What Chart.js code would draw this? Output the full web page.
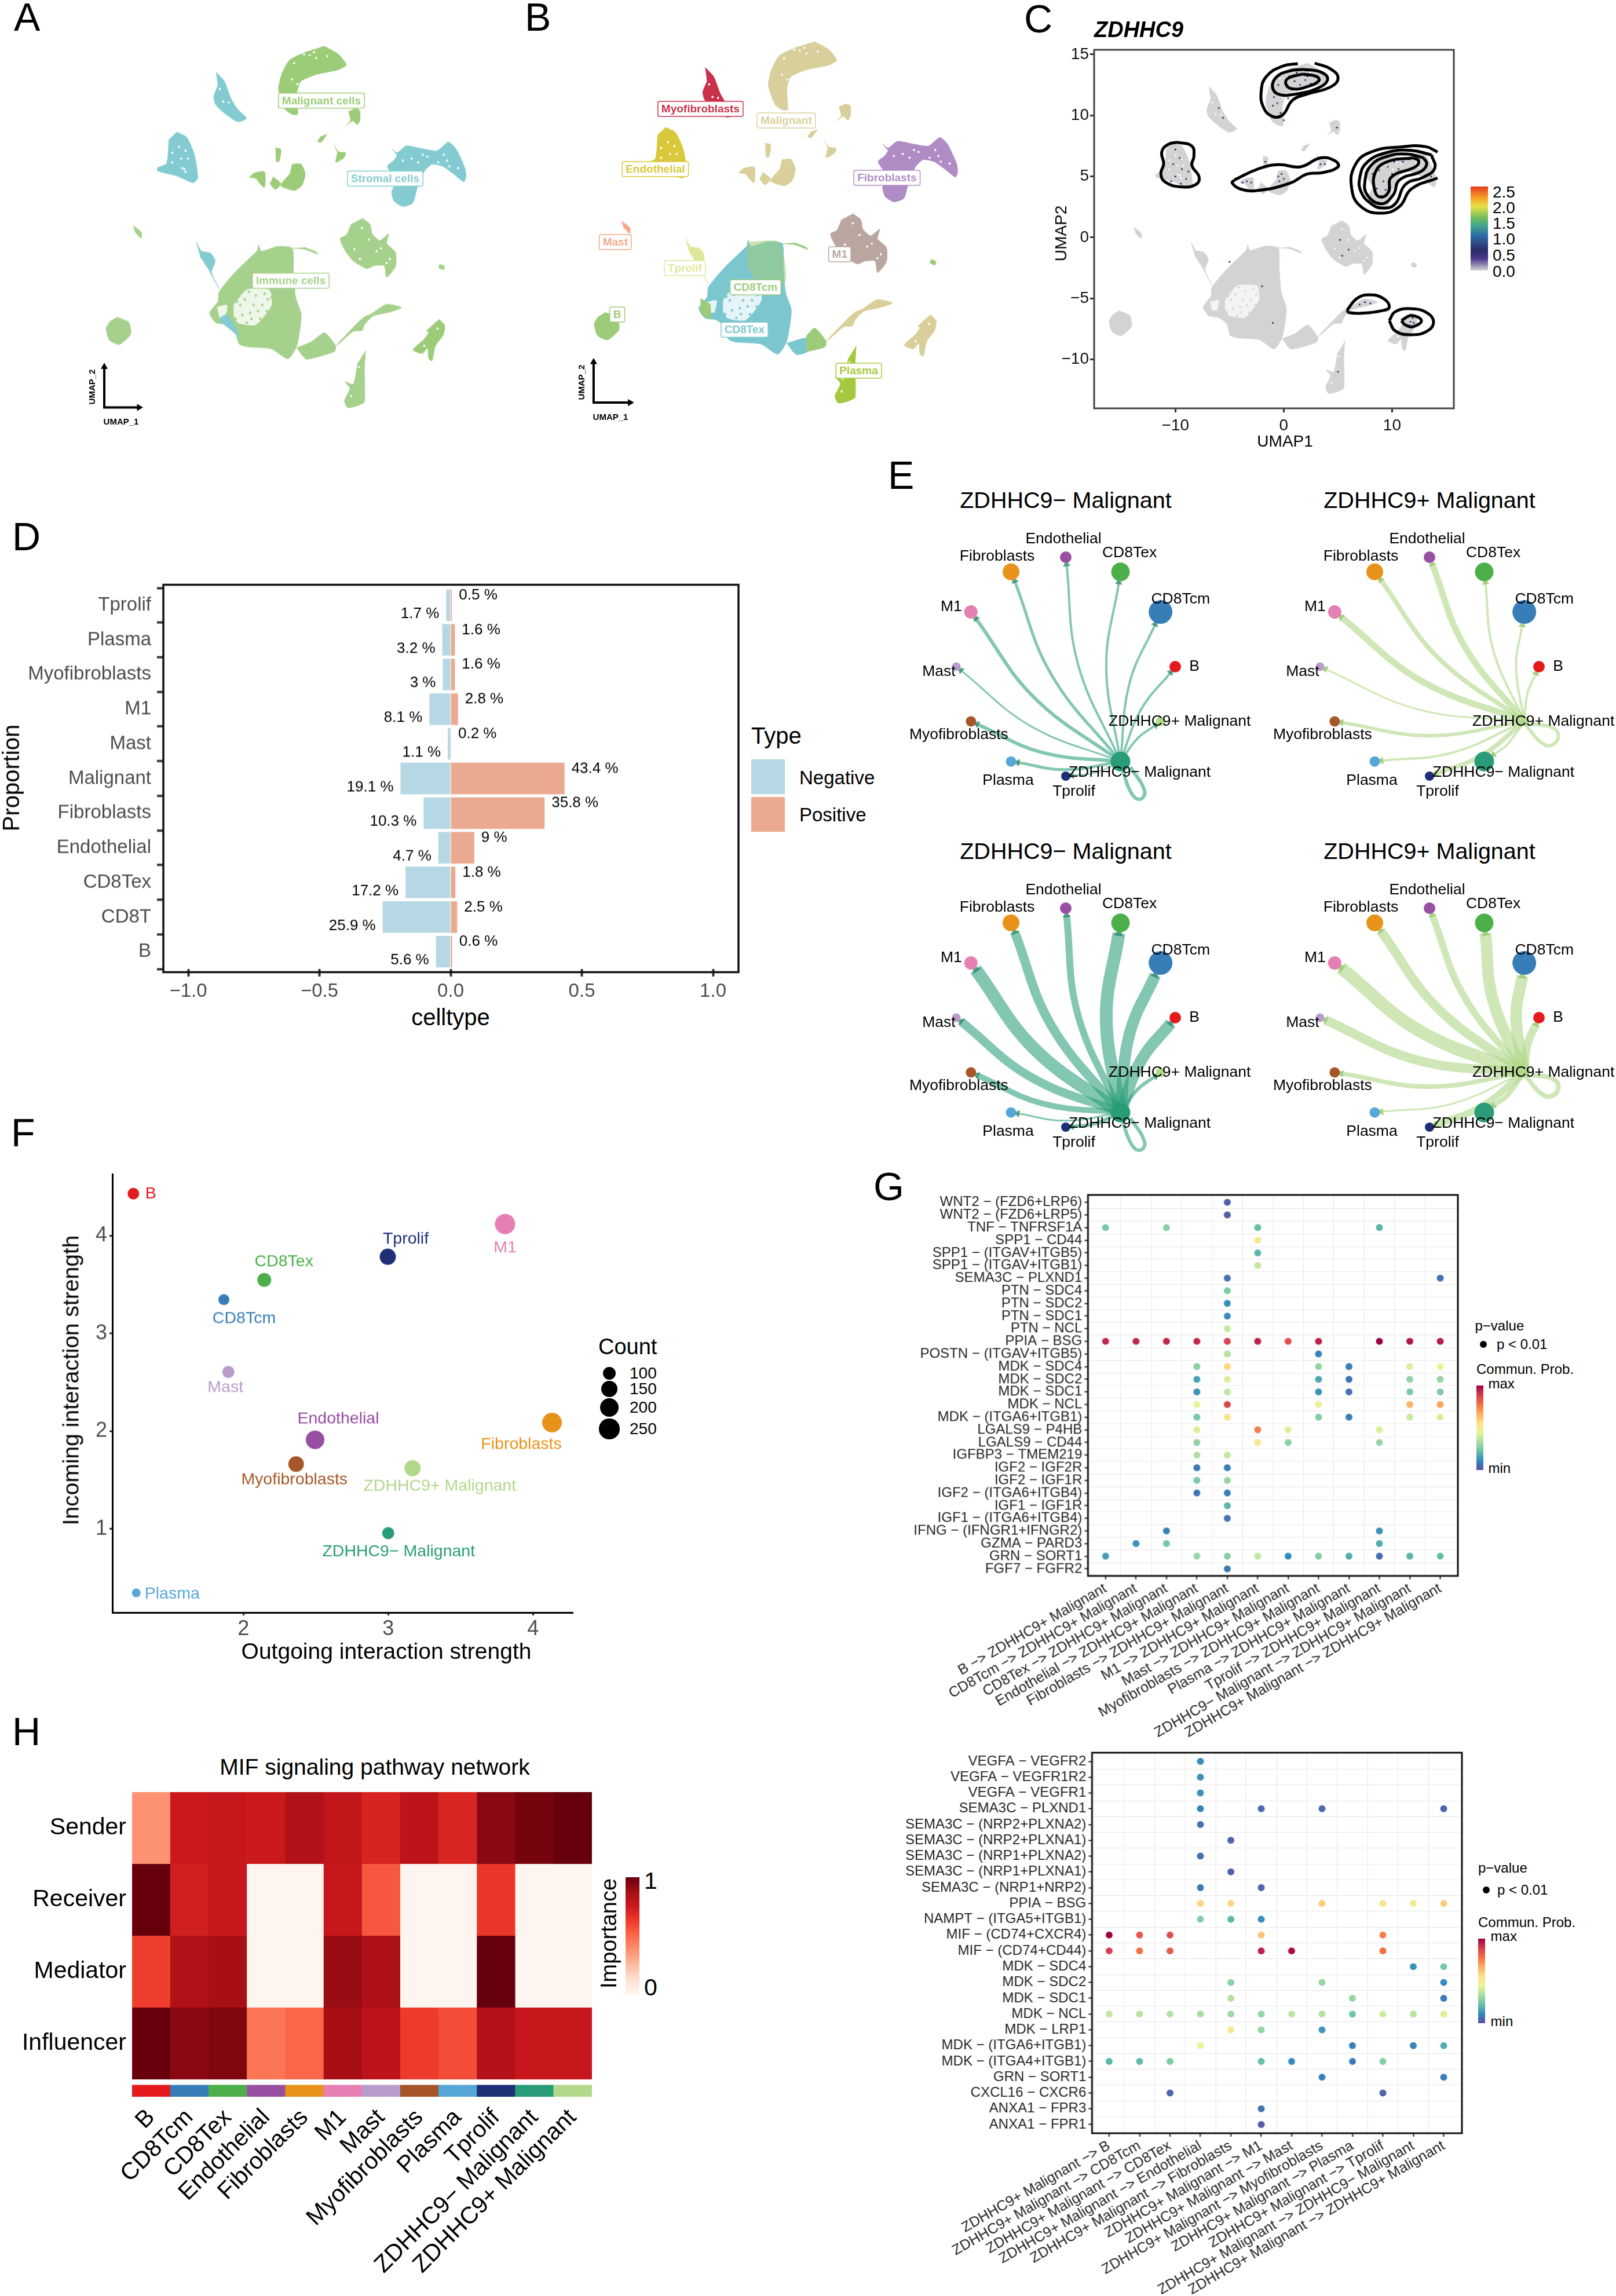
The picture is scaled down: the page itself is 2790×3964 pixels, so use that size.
<!DOCTYPE html>
<html><head><meta charset="utf-8">
<style>html,body{margin:0;padding:0;background:#fff}#page{position:relative;width:2790px;height:3964px;overflow:hidden;background:#fff}
canvas{position:absolute}.t{position:absolute;white-space:nowrap;font-family:"Liberation Sans",Arial,sans-serif;line-height:1}</style>
<script src="https://cdn.jsdelivr.net/npm/chart.js@4/dist/chart.umd.min.js"></script>
</head><body><div id="page"></div>
<script>
// ---------- shared categories and colours ----------
const cellTypes = ['B','CD8Tcm','CD8Tex','Endothelial','Fibroblasts','M1','Mast','Myofibroblasts','Plasma','Tprolif','ZDHHC9− Malignant','ZDHHC9+ Malignant'];
const cellColors = ['#e41a1c','#377eb8','#4daf4a','#984ea3','#e8921a','#e780b2','#b99ccb','#a65628','#56a7d8','#1e2f78','#2a9d78','#b2d88b'];

const umapMalignantTop = [[2.16,14.28],[3.37,13.67],[4.02,12.88],[3.37,12.52],[1.51,12.16],[0.21,11.65],[-0.12,10.78],[-0.07,9.77],[-0.07,9.16],[-0.53,9.19],[-1.09,9.55],[-1.61,10.78],[-1.65,11.22],[-1.37,12.23],[-0.72,13.24],[0.77,13.89]];
const umapMalignantSmall = [[4.76,9.63],[5.13,9.48],[5.17,8.76],[4.95,8.4],[4.58,8.69],[4.02,8.35],[4.39,8.73],[4.21,9.41]];
const umapMalignantSlimA = [[2.44,7.72],[1.92,7.1],[1.62,7.14],[1.89,7.53]];
const umapMalignantSlimB = [[3,6.88],[3.37,6.37],[3.96,6.3],[3.83,5.94],[3.15,5.58],[3.28,6.3]];
const umapMidStem = [[-1.92,6.66],[-1.46,6.56],[-1.61,5.65],[-1.87,5.65]];
const umapMidLeft = [[-4.12,4.45],[-3.69,4.78],[-2.85,4.89],[-2.76,4.28],[-2.85,3.7],[-3.22,3.99],[-3.5,4.35]];
const umapMidCentre = [[-2.11,4.5],[-1.46,3.99],[-1.92,3.56],[-2.39,3.99]];
const umapMidRight = [[-0.53,5.44],[0.21,5.46],[0.58,4.71],[0.3,3.85],[-0.35,3.48],[-1.46,3.85],[-0.72,4.71]];
const umapMyofibro = [[-6.9,12.34],[-6.2,11.65],[-5.64,10.35],[-5.08,9.55],[-4.34,8.88],[-5.08,8.62],[-6.2,9.27],[-6.94,9.92],[-7.09,10.5],[-6.75,11.29]];
const umapEndo = [[-10.19,7.86],[-9.36,7.46],[-8.71,6.16],[-8.43,4.42],[-8.8,4.06],[-10.19,4.57],[-11.77,4.93],[-11.83,5.15],[-11.03,5.51],[-10.84,7.31]];
const umapFibro = [[7.83,6.59],[8.29,6.3],[9.04,6.81],[10.43,6.59],[11.64,6.45],[12.57,7.1],[13.22,6.59],[13.96,5.15],[14.05,4.5],[13.87,4.13],[13.03,4.71],[12.1,5.29],[11.17,5.43],[10.52,4.86],[9.97,3.7],[9.59,2.54],[8.76,2.28],[8.02,2.69],[7.83,3.41],[8.2,4.13],[7.46,5.29],[8.01,5.72],[8.29,6.09]];
const umapM1 = [[5.35,1.39],[6,0.96],[6.19,0.23],[6.84,-0.27],[7.58,0.23],[7.4,-0.49],[8.14,-1.14],[8.14,-2.22],[7.4,-3.02],[7.21,-2.15],[6.38,-2.15],[5.73,-2.37],[4.61,-1.79],[3.96,-1.07],[3.5,-0.13],[4.05,0.16],[4.43,0.96]];
const umapImmune = [[-3.34,-0.56],[-3.1,-1.07],[-1.7,-0.71],[-0.5,-0.85],[-0.41,-2.66],[-0.22,-4.54],[0.25,-5.84],[-0.13,-8.15],[-0.87,-9.13],[-2.26,-8.37],[-4.31,-8.22],[-4.96,-8.01],[-5.2,-7.14],[-5.98,-6.56],[-6.91,-6.42],[-7.43,-5.69],[-6.72,-4.83],[-6.63,-4.1],[-5.24,-2.59],[-3.47,-1.07]];
const umapWhisker = [[-0.5,-0.85],[0.52,-0.92],[1.64,-1.29],[1.45,-1.1],[0.52,-0.78]];
const umapImmuneHollow = [[-5.42,-5.12],[-4.31,-3.96],[-2.45,-3.96],[-2.26,-5.12],[-3.56,-6.56],[-5.05,-6.42],[-5.42,-5.84]];
const umapImmuneHollowLeft = [[-6.81,-5.26],[-5.98,-5.12],[-6.16,-5.98],[-6.63,-5.98]];
const umapImmuneGreenA = [[-3.39,-0.75],[-0.78,-0.75],[-0.26,-3.63],[-2.08,-4.29],[-3.39,-2.52]];
const umapImmuneGreenB = [[-7.29,-4.96],[-6.51,-5.4],[-6.51,-6.5],[-7.29,-6.06]];
const umapTealStreak = [[-6.44,-5.98],[-5.98,-5.84],[-5.14,-6.99],[-5.05,-7.79],[-5.24,-7.28],[-6.63,-6.27]];
const umapTailHump = [[-0.13,-8.3],[1.08,-7.86],[2.2,-7.17],[3.13,-8.15],[3.03,-8.58],[0.71,-9.16],[0.25,-8.8]];
const umapTailThin = [[3.13,-8.15],[4.98,-6.42],[5.54,-5.98],[6.1,-5.77],[7.4,-5.04],[8.66,-5.29],[7.68,-5.62],[6.28,-5.91],[5.54,-6.56],[5.35,-7],[4.61,-7.07],[3.4,-8]];
const umapTailTeal = [[-0.13,-8.3],[1.7,-7.9],[1.56,-8.94],[0.71,-9.16],[0.25,-8.8]];
const umapTailGreen = [[1.5,-7.76],[2.2,-7.17],[3.13,-8.15],[3.03,-8.58],[1.5,-8.95]];
const umapRight = [[11.8,-6.16],[12.27,-6.63],[12.14,-7.36],[11.49,-8.15],[11.2,-9.28],[10.93,-9.09],[10.84,-8.3],[10.37,-8.73],[9.63,-8.44],[10.56,-7.65],[10.93,-7.14],[10.74,-7]];
const umapPlasma = [[5.63,-8.51],[5.54,-9.89],[5.54,-12.34],[4.98,-12.63],[4.15,-12.78],[3.87,-12.27],[4.33,-11.33],[3.9,-10.83],[4.61,-11.04],[4.98,-9.45]];
const umapB = [[-15.2,-6],[-14.2,-6.4],[-14.05,-7.28],[-15,-8.05],[-15.84,-7.72],[-16.1,-6.84],[-15.74,-6.28]];
const umapMast = [[-13.84,0.84],[-13.16,0.35],[-13.16,-0.09],[-13.68,0.35]];
const umapTprolif = [[-8.58,-0.35],[-8.12,-1.07],[-7.37,-1.21],[-6.96,-1.79],[-7.28,-2.66],[-6.63,-3.89],[-7,-3.31],[-7.56,-2.37],[-8.21,-1.5]];
const umapDot = [[11.84,-2.04],[12.26,-2.19],[12.16,-2.46],[11.74,-2.3]];
const umapGapCells = [[1.33,13.82],[0.96,13.6],[1.51,13.39],[2.44,13.53],[-0.35,13.02],[-0.53,11.8],[-0.07,11.43],[0.49,13.67],[-10,6.74],[-9.45,6.45],[-10.56,6.3],[-9.82,5.87],[-9.54,5.07],[-9.45,4.86],[-10.56,5.58],[-9.73,5.15],[-9.26,5.87],[-6.57,11.07],[-6.29,10.13],[-5.83,10.06],[10.43,6.16],[10.8,6.01],[12.47,5.72],[12.66,5.29],[11.73,5.58],[9.5,5.87],[10.06,5.58],[8.76,5.72],[13.4,5.15],[12.2,6.16],[5.35,0.67],[4.7,-0.92],[5.17,-1.65],[6.56,-1.07],[7.4,-1.94],[5.91,-0.2],[6.93,-0.85],[7.68,-1.65],[11.67,-6.85],[10.56,-8.15],[4.43,-11.91],[5.08,-9.74]];
const umapHollowCells = [[-4.12,-4.1],[-3.56,-4.39],[-2.82,-4.25],[-3.75,-5.1],[-4.86,-5.1],[-3.01,-5.1],[-2.63,-5.55],[-3.93,-6.13],[-4.68,-5.84],[-3.19,-6.13],[-5.14,-4.83],[-4.49,-4.68],[-2.26,-4.54],[-5.24,-6.13],[-4.31,-6.42],[-3.38,-5.55],[-4.03,-5.69],[-2.54,-4.68]];
const umapLabelsA = [['Malignant cells',1.94,10.2,'#9ccc78'],['Stromal cells',7.28,4.36,'#83cbd1'],['Immune cells',-0.63,-3.28,'#a6d18c']];
const umapLabelsB = [['Myofibroblasts',-7.29,9.24,'#c9304a'],['Malignant',-0.17,8.37,'#d9cf9a'],['Endothelial',-11.04,4.73,'#d9c83a'],['Fibroblasts',8.19,4.08,'#b08cc4'],['Mast',-14.36,-0.74,'#f4a98c'],['Tprolif',-8.59,-2.69,'#dfe89a'],['M1',4.27,-1.65,'#b9a79f'],['CD8Tcm',-2.72,-4.12,'#9ccb7a'],['CD8Tex',-3.63,-7.29,'#7dc8d0'],['B',-14.2,-6.16,'#9ccb7a'],['Plasma',5.84,-10.36,'#a4c93e']];

// ---------- panel C contours and expressing cells ----------
const contourTopOuter = [[2.86,14.28],[4.35,13.79],[5.02,13.06],[4.35,12.34],[2.12,11.73],[0.82,11.25],[-0.11,10.03],[-1.04,9.91],[-1.86,10.64],[-2.08,11.97],[-1.6,13.18],[-0.11,14.03],[1.3,14.23]];
const contourTopMid = [[1.75,13.77],[3.42,13.55],[4.05,12.94],[3.23,12.26],[1,11.73],[-0.48,11.73],[-1.04,12.34],[-0.67,13.14],[0.45,13.62],[1.75,13.77]];
const contourTopInner = [[1.75,13.38],[3.05,13.18],[3.23,12.82],[2.12,12.34],[0.82,12.17],[0.19,12.58],[0.45,13.06],[1.75,13.38]];
const contourLeft = [[-9.78,7.8],[-8.48,7.49],[-8.29,6.64],[-8.48,5.91],[-7.81,4.94],[-8.1,4.34],[-9.41,4.14],[-10.89,4.51],[-11.34,5.19],[-11.08,6.03],[-11.26,7],[-10.7,7.61],[-9.78,7.8]];
const contourMiddle = [[-4.57,4.7],[-2.34,5.62],[-0.48,5.96],[1.56,5.79],[3.42,6.52],[4.72,6.28],[5.02,5.79],[3.6,5.31],[2.12,5.19],[0.63,4.46],[-2.34,3.85],[-4.01,3.97],[-4.76,4.46],[-4.57,4.7]];
const contourRight1 = [[14.2,7],[13.09,7.44],[11.04,7.44],[8.07,7],[6.58,5.91],[6.28,3.97],[7.14,2.52],[8.99,1.99],[10.67,2.52],[11.78,3.97],[14.2,4.87]];
const contourRight2 = [[13.64,6.76],[11.78,7.13],[9.55,6.96],[7.7,6.16],[7.03,4.94],[7.14,3.73],[8.07,2.76],[9.18,2.4],[10.3,2.76],[11.23,4.34],[12.9,4.94],[13.94,5.67],[13.64,6.76]];
const contourRight3 = [[12.9,6.52],[11.41,6.83],[9.55,6.64],[8.07,5.91],[7.51,4.7],[7.7,3.49],[8.99,2.76],[10.11,3.49],[10.67,4.7],[12.71,5.43],[13.2,6.03],[12.9,6.52]];
const contourRight4 = [[11.97,6.52],[9.55,6.2],[8.44,5.31],[8.44,3.73],[8.99,3.3],[9.67,3.73],[9.93,4.94],[12.16,5.79],[12.45,6.28],[11.97,6.52]];
const contourLowA = [[5.84,-5.96],[6.77,-4.99],[7.88,-4.7],[9.18,-4.99],[9.74,-5.72],[9,-6.01],[7.32,-6.2],[6.02,-6.16],[5.84,-5.96]];
const contourLowB = [[9.74,-6.81],[10.3,-6.08],[11.78,-5.84],[13.27,-6.2],[13.83,-6.93],[13.27,-7.66],[11.78,-7.97],[10.3,-7.66],[9.74,-6.81]];
const contourLowC = [[10.86,-6.81],[11.78,-6.4],[12.71,-6.81],[11.97,-7.3],[11.23,-7.17],[10.86,-6.81]];
const expressingCells = [[0.5,13.2],[1,12.8],[1.5,12.5],[2,12.9],[2.5,12.6],[1.2,13.5],[2.2,13.2],[-0.5,12.5],[-0.9,11.5],[-1,10.8],[-0.3,10.2],[0,9.6],[0.4,11.4],[-0.6,11],[8.8,5.5],[9.2,4.6],[9.6,5.8],[10.2,6.2],[11,6.2],[11.6,6.4],[8.6,4],[9,3.4],[10,5.2],[12.3,5.9],[9.4,3.9],[8.2,5.2],[10.6,5.6],[13.6,5],[-10,7.2],[-9.6,6.5],[-10.2,6],[-9.4,5.6],[-10,5],[-9,4.8],[-8.8,5.4],[-10.4,4.6],[-9.5,4.4],[-3.8,4.5],[-3.4,4.6],[-3,4.5],[-0.5,5],[-0.2,5.2],[0,4.8],[-0.4,4.6],[3.4,6],[3.8,6],[-1.7,6.2],[7.5,-5.3],[8,-5.4],[7,-5.5],[11.7,-6.9],[12,-7],[11.9,-6.6],[11.6,-7.2],[-6,10.6],[-5.6,9.8],[4.9,9],[5.2,-0.2],[5.4,-1.5],[-5,-2],[6,-1],[-2,-4],[-1,-7],[5,-11]];
const cTicksX = [-10,0,10];
const cTicksY = [-10,-5,0,5,10,15];

// ---------- panel D ----------
const dCategories = ['Tprolif','Plasma','Myofibroblasts','M1','Mast','Malignant','Fibroblasts','Endothelial','CD8Tex','CD8T','B'];
const dNegative = [1.7,3.2,3,8.1,1.1,19.1,10.3,4.7,17.2,25.9,5.6];
const dPositive = [0.5,1.6,1.6,2.8,0.2,43.4,35.8,9,1.8,2.5,0.6];
const dTicks = [-1,-0.5,0,0.5,1];

// ---------- panel E: edge widths to each of the 12 cell types, per network ----------
const eWidthsTopNeg = [4,4,4,4,5,6,3,6,5,2,6,4];
const eWidthsTopPos = [4,4,4,11,8,11,3,6,4,8,4,6];
const eWidthsLowNeg = [20,20,22,12,16,22,15,10,3,6,6,6];
const eWidthsLowPos = [14,20,20,12,16,22,16,8,3,12,8,8];
const eNodeSizes = [10,20.5,16,10,14.5,11.5,7.5,9,9,8,17,8];

// ---------- panel F ----------
const fOutgoing = [1.24,1.865,2.144,2.495,4.131,3.807,1.896,2.364,1.26,2.997,3.0,3.168];
const fIncoming = [4.43,3.346,3.547,1.912,2.088,4.119,2.606,1.664,0.346,3.784,0.957,1.621];
const fSizes = [10,9.5,12,16,17,17.5,10.5,13.5,7.5,14,10.5,14];

// ---------- panel G ----------
const gTopRows = ['WNT2 − (FZD6+LRP6)','WNT2 − (FZD6+LRP5)','TNF − TNFRSF1A','SPP1 − CD44','SPP1 − (ITGAV+ITGB5)','SPP1 − (ITGAV+ITGB1)','SEMA3C − PLXND1','PTN − SDC4','PTN − SDC2','PTN − SDC1','PTN − NCL','PPIA − BSG','POSTN − (ITGAV+ITGB5)','MDK − SDC4','MDK − SDC2','MDK − SDC1','MDK − NCL','MDK − (ITGA6+ITGB1)','LGALS9 − P4HB','LGALS9 − CD44','IGFBP3 − TMEM219','IGF2 − IGF2R','IGF2 − IGF1R','IGF2 − (ITGA6+ITGB4)','IGF1 − IGF1R','IGF1 − (ITGA6+ITGB4)','IFNG − (IFNGR1+IFNGR2)','GZMA − PARD3','GRN − SORT1','FGF7 − FGFR2'];
const gTopCells = [[[5,.03]],[[5,.03]],[[1,.25],[3,.28],[6,.22],[10,.2]],[[6,.52]],[[6,.2]],[[6,.38]],[[5,.07],[12,.07]],[[5,.26]],[[5,.12]],[[5,.12]],[[5,.38]],
 [[1,.93],[2,.93],[3,.93],[4,.93],[5,.88],[6,.94],[7,.85],[8,.94],[10,1],[11,.96],[12,.95]],[[5,.35],[8,.1]],
 [[4,.28],[5,.58],[8,.3],[9,.09],[11,.42],[12,.45]],[[4,.16],[5,.42],[8,.17],[9,.07],[11,.29],[12,.3]],[[4,.13],[5,.38],[8,.13],[9,.06],[11,.26],[12,.26]],[[4,.45],[5,.87],[8,.47],[11,.65],[12,.68]],[[4,.25],[5,.53],[8,.27],[9,.09],[11,.39],[12,.42]],
 [[4,.42],[6,.75],[7,.42],[10,.42]],[[4,.29],[6,.52],[7,.28],[10,.3]],[[4,.34],[5,.38]],[[4,.08],[5,.09]],[[4,.26],[5,.3]],[[4,.08],[5,.09]],[[5,.2]],[[5,.07]],[[3,.1],[10,.13]],[[2,.13],[3,.24],[10,.18]],
 [[1,.15],[4,.3],[5,.27],[6,.38],[7,.12],[8,.27],[9,.18],[10,.06],[11,.2],[12,.22]],[[5,.08]]];
const gLowRows = ['VEGFA − VEGFR2','VEGFA − VEGFR1R2','VEGFA − VEGFR1','SEMA3C − PLXND1','SEMA3C − (NRP2+PLXNA2)','SEMA3C − (NRP2+PLXNA1)','SEMA3C − (NRP1+PLXNA2)','SEMA3C − (NRP1+PLXNA1)','SEMA3C − (NRP1+NRP2)','PPIA − BSG','NAMPT − (ITGA5+ITGB1)','MIF − (CD74+CXCR4)','MIF − (CD74+CD44)','MDK − SDC4','MDK − SDC2','MDK − SDC1','MDK − NCL','MDK − LRP1','MDK − (ITGA6+ITGB1)','MDK − (ITGA4+ITGB1)','GRN − SORT1','CXCL16 − CXCR6','ANXA1 − FPR3','ANXA1 − FPR1'];
const gLowCells = [[[4,.12]],[[4,.13]],[[4,.13]],[[4,.1],[6,.05],[8,.05],[12,.04]],[[4,.06]],[[5,.04]],[[4,.06]],[[5,.03]],[[4,.08],[6,.04]],
 [[4,.58],[5,.58],[8,.6],[10,.52],[11,.5],[12,.6]],[[4,.27],[5,.2],[6,.12]],[[1,1],[2,.83],[3,.85],[6,.62],[10,.75]],[[1,.88],[2,.77],[3,.82],[6,.94],[7,.98],[10,.78]],
 [[11,.13],[12,.25]],[[5,.28],[8,.3],[12,.12]],[[5,.35],[9,.3],[12,.08]],[[1,.38],[2,.36],[3,.35],[4,.33],[5,.32],[6,.3],[7,.37],[8,.35],[9,.24],[10,.4],[11,.36],[12,.42]],
 [[5,.52],[6,.3],[8,.14]],[[4,.45],[9,.1],[11,.1],[12,.18]],[[1,.2],[2,.21],[3,.26],[6,.22],[7,.12],[9,.09],[10,.27]],[[8,.1],[12,.09]],[[3,.04],[10,.04]],[[6,.07]],[[6,.03]]];

// ---------- panel H ----------
const hRoles = ['Sender','Receiver','Mediator','Influencer'];
const hSender = [.375,.75,.76,.75,.84,.78,.71,.8,.7,.93,.97,1];
const hReceiver = [1,.73,.76,0,0,.77,.55,0,0,.64,0,0];
const hMediator = [.62,.84,.87,0,0,.9,.85,0,0,1,0,0];
const hInfluencer = [1,.93,.95,.47,.51,.87,.8,.63,.58,.83,.76,.77];

// ---------- helpers ----------
const FONT = '"Liberation Sans", Arial, sans-serif';
Chart.defaults.font.family = FONT;
const page = document.getElementById('page');
const SPECTRAL = ['#5e4fa2','#3288bd','#66c2a5','#abdda4','#e6f598','#fee08b','#fdae61','#f46d43','#d53e4f','#9e0142'];
const REDS = ['#fff5f0','#fee0d2','#fcbba1','#fc9272','#fb6a4a','#ef3b2c','#cb181d','#a50f15','#67000d'];
function hex(c){return [1,3,5].map(i=>parseInt(c.substr(i,2),16));}
function ramp(p,v){const f=Math.max(0,Math.min(1,v))*(p.length-1),i=Math.min(p.length-2,Math.floor(f)),t=f-i,a=hex(p[i]),b=hex(p[i+1]);
  return 'rgb('+a.map((x,k)=>Math.round(x+(b[k]-x)*t)).join(',')+')';}
function text(s,x,y,o={}){const d=document.createElement('div');d.className='t';d.textContent=s;
  const a=o.align||'left',tx=a==='left'?'0':a==='center'?'-50%':'-100%';
  d.style.cssText+=`left:${x}px;top:${y}px;font-size:${o.size||24}px;color:${o.color||'#000'};font-weight:${o.bold?'bold':'normal'};font-style:${o.italic?'italic':'normal'};transform:translate(${tx},-50%)${o.rot?` rotate(${o.rot}deg)`:''};transform-origin:center;`;
  page.appendChild(d);}
function block(x,y,w,h,bg,round){const d=document.createElement('div');d.style.cssText=`position:absolute;left:${x}px;top:${y}px;width:${w}px;height:${h}px;background:${bg};${round?'border-radius:50%;':''}`;page.appendChild(d);}
function base(extra){return Object.assign({responsive:false,animation:false,devicePixelRatio:1,events:[]},extra);}
function quiet(extra){return Object.assign({legend:{display:false},tooltip:{enabled:false}},extra||{});}
function canvasAt(x,y,w,h){const c=document.createElement('canvas');c.width=w;c.height=h;c.style.left=x+'px';c.style.top=y+'px';c.style.width=w+'px';c.style.height=h+'px';page.appendChild(c);return c;}
function zeroPad(s){s.paddingTop=0;s.paddingBottom=0;s.paddingLeft=0;s.paddingRight=0;}
// Chart whose plot area lands on the rectangle p={l,t,r,b}; m = outer margins
function plotChart(p,m,cfg){
  const c=canvasAt(p.l-m.l,p.t-m.t,p.r-p.l+m.l+m.r,p.b-p.t+m.t+m.b);
  const sc=cfg.options.scales;
  sc.x.afterFit=s=>{s.height=m.b;zeroPad(s);};
  sc.y.afterFit=s=>{s.width=m.l;zeroPad(s);};
  cfg.options=Object.assign(base({layout:{autoPadding:false,padding:{top:m.t,right:m.r,left:0,bottom:0}}}),cfg.options);
  return new Chart(c,cfg);
}
function bareChart(x,y,w,h,cfg){const c=canvasAt(x,y,w,h);cfg.options=Object.assign(base({layout:{autoPadding:false,padding:0}}),cfg.options);return new Chart(c,cfg);}
const framePlugin=(color,width,pad)=>({id:'frame',afterDatasetsDraw(ch){const a=ch.chartArea,x=ch.ctx;x.save();x.strokeStyle=color;x.lineWidth=width;x.strokeRect(a.left,a.top-(pad||0),a.right-a.left,a.bottom-a.top+2*(pad||0));x.restore();}});
const pts=a=>a.map(p=>({x:p[0],y:p[1]}));
function poly(a,color,i,border){return {type:'scatter',data:pts(a),showLine:true,fill:'shape',backgroundColor:color,borderColor:border||color,borderWidth:1,pointRadius:0,tension:0.2,order:-i,clip:false};}
function cellDots(a,color,r,i){return {type:'scatter',data:pts(a),pointRadius:r,pointBackgroundColor:color,pointBorderWidth:0,order:-i,clip:false};}

// ---------- Panels A and B ----------
function umapChart(x,y,w,h,shapes,hollowColor,labels,arrow){
  const ds=shapes.map((s,i)=>poly(s[0],s[1],i));
  let n=ds.length;
  ds.push(cellDots(umapGapCells,'#fff',1.9,n++));
  ds.push(cellDots(umapHollowCells,hollowColor,2.2,n++));
  ds.push({type:'scatter',data:pts([[arrow[0],arrow[3]],[arrow[0],arrow[1]],[arrow[2],arrow[1]]]),showLine:true,borderColor:'#000',borderWidth:4,tension:0,
    pointRadius:[7,0,7],pointStyle:'triangle',pointRotation:[0,0,90],pointBackgroundColor:'#000',pointBorderWidth:0,order:-n});
  const labelPlugin={id:'ulabels',afterDatasetsDraw(ch){const c=ch.ctx;c.save();c.font='bold 19px '+FONT;c.textAlign='center';c.textBaseline='middle';
    labels.forEach(l=>{const px=ch.scales.x.getPixelForValue(l[1]),py=ch.scales.y.getPixelForValue(l[2]),tw=c.measureText(l[0]).width+12;
      c.beginPath();c.roundRect(px-tw/2,py-13,tw,26,3);c.fillStyle='#fff';c.fill();c.strokeStyle=l[3];c.lineWidth=1.5;c.stroke();c.fillStyle=l[3];c.fillText(l[0],px,py+1);});c.restore();}};
  bareChart(x,y,w,h,{data:{datasets:ds},plugins:[labelPlugin],options:{plugins:quiet(),scales:{x:{type:'linear',min:-20,max:20,display:false},y:{type:'linear',min:-15,max:16,display:false}}}});
}
const gA='#9ccc78',gI='#a6d18c',tA='#83cbd1',hw='rgba(255,255,255,.8)';
umapChart(103,39.7,824,714.9,[[umapMalignantTop,gA],[umapMalignantSmall,gA],[umapMalignantSlimA,gA],[umapMalignantSlimB,gA],[umapMidStem,gA],[umapMidLeft,gA],[umapMidCentre,gA],[umapMidRight,gA],[umapMyofibro,tA],[umapEndo,tA],[umapFibro,tA],[umapM1,gI],[umapImmune,gI],[umapWhisker,gI],[umapImmuneHollow,hw],[umapImmuneHollowLeft,hw],[umapTealStreak,tA],[umapTailHump,gI],[umapTailThin,gI],[umapRight,gA],[umapPlasma,gI],[umapB,gI],[umapMast,gI],[umapTprolif,tA],[umapDot,gI]],gI,umapLabelsA,[-16.26,-12.76,-13.35,-9.73]);
const kB='#d9cf9a',teal='#7cc7cf',grB='#9ccb7a';
umapChart(944.6,32,832,715,[[umapMalignantTop,kB],[umapMalignantSmall,kB],[umapMalignantSlimA,kB],[umapMalignantSlimB,kB],[umapMidStem,kB],[umapMidLeft,kB],[umapMidCentre,kB],[umapMidRight,kB],[umapMyofibro,'#c9304a'],[umapEndo,'#d9c83a'],[umapFibro,'#b08cc4'],[umapM1,'#b9a79f'],[umapImmune,teal],[umapWhisker,grB],[umapImmuneHollow,hw],[umapImmuneHollowLeft,hw],[umapImmuneGreenA,'rgba(156,203,122,.55)'],[umapImmuneGreenB,grB],[umapTailTeal,teal],[umapTailGreen,grB],[umapTailThin,kB],[umapRight,kB],[umapPlasma,'#a4c93e'],[umapB,grB],[umapMast,'#f4a98c'],[umapTprolif,'#dfe89a'],[umapDot,grB]],teal,umapLabelsB,[-16.16,-12.75,-13.14,-9.71]);
text('UMAP_2',158,668,{size:15,bold:true,align:'center',rot:-90});
text('UMAP_1',209,727,{size:15,bold:true,align:'center'});
text('UMAP_2',1003,660,{size:15,bold:true,align:'center',rot:-90});
text('UMAP_1',1054,719,{size:15,bold:true,align:'center'});

// ---------- Panel C ----------
(function(){
  const g='#d3d3d3',h2='rgba(255,255,255,.72)';
  const ds=[umapMalignantTop,umapMalignantSmall,umapMalignantSlimA,umapMalignantSlimB,umapMidStem,umapMidLeft,umapMidCentre,umapMidRight,umapMyofibro,umapEndo,umapFibro,umapM1,umapImmune,umapWhisker,umapImmuneHollow,umapImmuneHollowLeft,umapTailHump,umapTailThin,umapRight,umapPlasma,umapB,umapMast,umapTprolif,umapDot].map((s,i)=>{const hollow=s===umapImmuneHollow||s===umapImmuneHollowLeft;return poly(s,hollow?h2:g,i,hollow?'rgba(255,255,255,0)':g);});
  let n=ds.length;
  ds.push(cellDots(umapGapCells,'#fff',1.6,n++));
  ds.push(cellDots(umapHollowCells,g,1.8,n++));
  ds.push(cellDots(expressingCells,'#3c2f7c',1.6,n++));
  [contourTopOuter,contourTopMid,contourTopInner,contourLeft,contourMiddle,contourRight1,contourRight2,contourRight3,contourRight4,contourLowA,contourLowB,contourLowC].forEach(a=>{
    ds.push({type:'scatter',data:pts(a),showLine:true,borderColor:'#000',borderWidth:5,pointRadius:0,tension:0.45,order:-(n++),clip:false});});
  const tickFont={size:28};
  plotChart({l:1889,t:86,r:2510,b:705},{l:95,t:30,r:10,b:50},{data:{datasets:ds},plugins:[framePlugin('#444',3)],options:{plugins:quiet(),scales:{
    x:{type:'linear',min:-17.5,max:15.7,afterBuildTicks:s=>{s.ticks=cTicksX.map(v=>({value:v}));},border:{display:false},grid:{drawOnChartArea:false,drawTicks:true,tickLength:7,tickWidth:3,tickColor:'#333'},ticks:{font:tickFont,color:'#111',padding:6,maxRotation:0,callback:v=>String(v).replace('-','−')}},
    y:{type:'linear',min:-14,max:15.37,afterBuildTicks:s=>{s.ticks=cTicksY.map(v=>({value:v}));},border:{display:false},grid:{drawOnChartArea:false,drawTicks:true,tickLength:7,tickWidth:3,tickColor:'#333'},ticks:{font:tickFont,color:'#111',padding:2,callback:v=>String(v).replace('-','−')}}}}});
  text('ZDHHC9',1889,51,{size:38,bold:true,italic:true});
  text('UMAP1',2218.6,762,{size:28,align:'center'});
  text('UMAP2',1832,403,{size:28,align:'center',rot:-90});
  block(2539,322,30,145,'linear-gradient(to top,#d3d3d3 0%,#4a3a8c 14%,#2b2b6a 24%,#2c6fa8 42%,#45a58c 54%,#6cbb5f 62%,#e8df4a 76%,#f5a623 86%,#e83820 100%)');
  [['2.5',332],['2.0',359],['1.5',386],['1.0',413],['0.5',441],['0.0',469]].forEach(t=>text(t[0],2577,t[1],{size:28}));
})();

// ---------- Panel D ----------
(function(){
  const neg=dNegative.map(v=>-v/100),posv=dPositive.map(v=>v/100);
  const labelPlugin={id:'dlabels',afterDatasetsDraw(ch){const c=ch.ctx,xs=ch.scales.x,ys=ch.scales.y;c.save();c.font='26px '+FONT;c.fillStyle='#000';c.textBaseline='middle';
    dCategories.forEach((k,i)=>{const cy=ys.getPixelForValue(i);
      c.textAlign='left';c.fillText(dPositive[i]+' %',xs.getPixelForValue(posv[i])+12,cy-17);
      c.textAlign='right';c.fillText(dNegative[i]+' %',xs.getPixelForValue(neg[i])-12,cy+15);});c.restore();}};
  plotChart({l:282,t:1014.8,r:1275,b:1672.7},{l:270,t:10,r:10,b:60},{type:'bar',data:{labels:dCategories,datasets:[
    {label:'Negative',data:neg,backgroundColor:'#b6d7e4',stack:'s',barPercentage:.91,categoryPercentage:1},
    {label:'Positive',data:posv,backgroundColor:'#eba98f',stack:'s',barPercentage:.91,categoryPercentage:1}]},
    plugins:[framePlugin('#111',3.5,5.5),labelPlugin],options:{indexAxis:'y',plugins:quiet(),scales:{
      x:{type:'linear',stacked:true,min:-1.095,max:1.097,afterBuildTicks:s=>{s.ticks=dTicks.map(v=>({value:v}));},border:{display:false},grid:{drawOnChartArea:false,drawTicks:true,tickLength:13,tickWidth:4,tickColor:'#333'},ticks:{font:{size:33},color:'#4d4d4d',padding:6,maxRotation:0,callback:v=>v.toFixed(1).replace('-','−')}},
      y:{type:'category',stacked:true,border:{display:false},grid:{drawOnChartArea:false,drawTicks:true,tickLength:11,tickWidth:4,tickColor:'#333'},ticks:{font:{size:33},color:'#4d4d4d',padding:10,autoSkip:false}}}}});
  text('celltype',778,1756,{size:40,align:'center'});
  text('Proportion',19,1343,{size:40,align:'center',rot:-90});
  text('Type',1297,1270,{size:40});
  block(1297,1311,58,60,'#b6d7e4');block(1297,1376,58,60,'#eba98f');
  text('Negative',1380,1342,{size:33});text('Positive',1380,1406,{size:33});
})();

// ---------- Panel E ----------
function network(cx,cy,title,src,widths,color,arrowColor){
  const nodes=cellTypes.map((k,i)=>({x:Math.cos(i*Math.PI/6),y:Math.sin(i*Math.PI/6)}));
  const R=189,ds=[],s=nodes[src];
  cellTypes.forEach((k,i)=>{
    if(i===src){const o=src===10?[[.01,-.05],[.1,-.29],[.18,-.345],[.22,-.27],[.09,-.05]]:[[0,-.02],[.19,-.215],[.3,-.175],[.28,-.07],[.06,-.02]];
      ds.push({type:'scatter',data:o.map(d=>({x:s.x+d[0],y:s.y+d[1]})),showLine:true,borderColor:color,borderWidth:widths[i],tension:.45,pointRadius:0,order:2,clip:false});return;}
    const t=nodes[i],dx=t.x-s.x,dy=t.y-s.y,gap=(eNodeSizes[i]+2)/R;
    const mx=(s.x+t.x)/2-dy*.075,my=(s.y+t.y)/2+dx*.075;
    const ax=t.x-mx,ay=t.y-my,al=Math.hypot(ax,ay),ex=t.x-ax/al*gap,ey=t.y-ay/al*gap;
    const rot=Math.atan2(ax,ay)*180/Math.PI;
    ds.push({type:'scatter',data:[{x:s.x,y:s.y},{x:mx,y:my},{x:ex,y:ey}],showLine:true,borderColor:color,borderWidth:widths[i],tension:.4,
      pointRadius:[0,0,Math.max(7.5,widths[i]*.42)],pointStyle:'triangle',pointRotation:[0,0,rot],pointBackgroundColor:arrowColor,pointBorderWidth:0,order:2,clip:false});
  });
  ds.push({type:'scatter',data:nodes,pointRadius:eNodeSizes,pointBackgroundColor:cellColors,pointBorderWidth:0,order:0,clip:false});
  const off=[[33,0],[34.5,-22],[15.6,-33],[-4,-31],[-24,-27],[-34,-9],[-30,9],[-21,23],[-5,33],[14,27],[33,19],[33,0]];
  const lab={id:'nlabels',afterDatasetsDraw(ch){const c=ch.ctx;c.save();c.font='26.5px '+FONT;c.fillStyle='#000';c.textAlign='center';c.textBaseline='middle';
    cellTypes.forEach((k,i)=>{c.fillText(k,ch.scales.x.getPixelForValue(nodes[i].x)+off[i][0],ch.scales.y.getPixelForValue(nodes[i].y)+off[i][1]);});c.restore();}};
  const hw=322,hh=262;
  bareChart(cx-hw,cy-hh,2*hw,2*hh,{data:{datasets:ds},plugins:[lab],options:{plugins:quiet(),scales:{x:{type:'linear',min:-hw/R,max:hw/R,display:false},y:{type:'linear',min:-hh/R,max:hh/R,display:false}}}});
  text(title,cx,cy-287,{size:39.5,align:'center'});
}
network(1840,1151,'ZDHHC9− Malignant',10,eWidthsTopNeg,'rgba(42,157,120,.58)','rgba(30,130,100,.7)');
network(2468,1151,'ZDHHC9+ Malignant',11,eWidthsTopPos,'rgba(178,216,139,.62)','rgba(150,200,110,.8)');
network(1840,1756.5,'ZDHHC9− Malignant',10,eWidthsLowNeg,'rgba(42,157,120,.58)','rgba(30,130,100,.7)');
network(2468,1756.5,'ZDHHC9+ Malignant',11,eWidthsLowPos,'rgba(178,216,139,.62)','rgba(150,200,110,.8)');

// ---------- Panel F ----------
(function(){
  const off=[[30,0],[35,33],[34,-31],[40,-36],[-53,38],[0,41],[-5,27],[-3,27],[62,2],[31,-30],[18,32],[47,31]];
  const lab={id:'flabels',afterDatasetsDraw(ch){const c=ch.ctx;c.save();c.font='28.5px '+FONT;c.textAlign='center';c.textBaseline='middle';
    cellTypes.forEach((k,i)=>{c.fillStyle=cellColors[i];c.fillText(k,ch.scales.x.getPixelForValue(fOutgoing[i])+off[i][0],ch.scales.y.getPixelForValue(fIncoming[i])+off[i][1]);});c.restore();}};
  plotChart({l:193.6,t:2027,r:989.5,b:2783.6},{l:60,t:10,r:10,b:50},{data:{datasets:[{type:'scatter',data:fOutgoing.map((v,i)=>({x:v,y:fIncoming[i]})),pointRadius:fSizes,pointBackgroundColor:cellColors,pointBorderWidth:0}]},plugins:[lab],options:{plugins:quiet(),scales:{
    x:{type:'linear',min:1.095,max:4.275,afterBuildTicks:s=>{s.ticks=[2,3,4].map(v=>({value:v}));},border:{display:true,color:'#000',width:3},grid:{drawOnChartArea:false,drawTicks:true,tickLength:5,tickWidth:3,tickColor:'#333'},ticks:{font:{size:36},color:'#4d4d4d',padding:2,maxRotation:0,callback:v=>v}},
    y:{type:'linear',min:.145,max:4.63,afterBuildTicks:s=>{s.ticks=[1,2,3,4].map(v=>({value:v}));},border:{display:true,color:'#000',width:3},grid:{drawOnChartArea:false,drawTicks:true,tickLength:5,tickWidth:3,tickColor:'#333'},ticks:{font:{size:36},color:'#4d4d4d',padding:4,callback:v=>v}}}}});
  text('Outgoing interaction strength',667,2850,{size:39,align:'center'});
  text('Incoming interaction strength',122,2383,{size:39,align:'center',rot:-90});
  text('Count',1033,2325,{size:38});
  [[100,2371,11],[150,2398,14],[200,2430,16],[250,2467,17.6]].forEach(l=>{block(1052-l[2],l[1]-l[2],2*l[2],2*l[2],'#000',true);text(String(l[0]),1087,l[1],{size:28});});
})();

// ---------- Panel G ----------
function dotPlot(p,m,rows,cols,cells,xmin,xmax,ymin,ymax){
  const data=[],colors=[];
  cells.forEach((r,i)=>r.forEach(c=>{data.push({x:c[0],y:i+1});colors.push(ramp(SPECTRAL,c[1]));}));
  const xt=[],yt=[];
  for(let i=1;i<=cols.length;i++){xt.push(i);if(i<cols.length)xt.push(i+.5);}
  for(let i=1;i<=rows.length;i++){yt.push(i);if(i<rows.length)yt.push(i+.5);}
  const grid={drawOnChartArea:true,drawTicks:true,tickLength:6,tickWidth:2,lineWidth:1,color:c=>c.tick&&Number.isInteger(c.tick.value)?'rgba(0,0,0,0)':'#e6e6e6',tickColor:c=>c.tick&&Number.isInteger(c.tick.value)?'#222':'rgba(0,0,0,0)'};
  plotChart(p,m,{data:{datasets:[{type:'scatter',data,pointRadius:6,pointBackgroundColor:colors,pointBorderWidth:0}]},plugins:[framePlugin('#111',3)],options:{plugins:quiet(),scales:{
    x:{type:'linear',min:xmin,max:xmax,afterBuildTicks:s=>{s.ticks=xt.map(v=>({value:v}));},border:{display:false},grid,ticks:{font:{size:25},color:'#222',padding:1,autoSkip:false,minRotation:30,maxRotation:30,callback:v=>Number.isInteger(v)?cols[v-1]:''}},
    y:{type:'linear',reverse:true,min:ymin,max:ymax,afterBuildTicks:s=>{s.ticks=yt.map(v=>({value:v}));},border:{display:false},grid,ticks:{font:{size:24},color:'#222',padding:4,autoSkip:false,callback:v=>Number.isInteger(v)?rows[v-1]:''}}}}});
}
dotPlot({l:1878.4,t:2063.3,r:2516.9,b:2720.7},{l:320,t:10,r:20,b:300},gTopRows,cellTypes.map(k=>k+' −> ZDHHC9+ Malignant'),gTopCells,.42,12.58,.417,30.555);
dotPlot({l:1885,t:3026.4,r:2523.5,b:3683.5},{l:320,t:10,r:20,b:280},gLowRows,cellTypes.map(k=>'ZDHHC9+ Malignant −> '+k),gLowCells,.436,12.6,.446,24.554);
const specGrad='linear-gradient(to top,'+SPECTRAL.join(',')+')';
text('p−value',2546.5,2289,{size:24});block(2554.5,2315,12,12,'#000',true);text('p < 0.01',2584,2321,{size:24});
text('Commun. Prob.',2549,2364,{size:24});block(2549,2392,12,146,specGrad);text('max',2569.5,2389,{size:24});text('min',2569.5,2535,{size:24});
text('p−value',2552,3225,{size:24});block(2560,3257,12,12,'#000',true);text('p < 0.01',2585,3263,{size:24});
text('Commun. Prob.',2552,3319,{size:24});block(2552,3347,12,146,specGrad);text('max',2573.6,3343,{size:24});text('min',2573.6,3490,{size:24});

// ---------- Panel H ----------
(function(){
  const rowsV=[hSender,hReceiver,hMediator,hInfluencer];
  const ds=rowsV.map((vals,r)=>({data:vals.map(()=>[r,r+1]),backgroundColor:vals.map(v=>ramp(REDS,v)),borderColor:vals.map(v=>ramp(REDS,v)),borderWidth:.6,barPercentage:1,categoryPercentage:1,grouped:false}));
  ds.push({data:cellTypes.map(()=>[4.08,4.242]),backgroundColor:cellColors,borderWidth:0,barPercentage:1,categoryPercentage:1,grouped:false});
  plotChart({l:228,t:3094,r:1022,b:3620},{l:225,t:10,r:10,b:320},{type:'bar',data:{labels:cellTypes,datasets:ds},options:{plugins:quiet(),scales:{
    x:{type:'category',border:{display:false},grid:{display:false},ticks:{font:{size:41},color:'#000',padding:4,autoSkip:false,minRotation:45,maxRotation:45}},
    y:{type:'linear',reverse:true,min:0,max:4.242,afterBuildTicks:s=>{s.ticks=[.5,1.5,2.5,3.5].map(v=>({value:v}));},border:{display:false},grid:{display:false},ticks:{font:{size:41},color:'#000',padding:2,callback:v=>hRoles[v-.5]}}}}});
  text('MIF signaling pathway network',647,3050,{size:39,align:'center'});
  block(1080,3241,24,202,'linear-gradient(to top,'+REDS.join(',')+')');
  text('1',1112,3247,{size:41});text('0',1112,3431,{size:41});
  text('Importance',1051,3338,{size:38,align:'center',rot:-90});
})();

// ---------- panel letters ----------
[['A',24,29],['B',906,29],['C',1768,32],['D',21,926],['E',1533,820],['F',19,1955],['G',1508,2048],['H',21,2989]].forEach(l=>text(l[0],l[1],l[2],{size:68}));
</script></body></html>
